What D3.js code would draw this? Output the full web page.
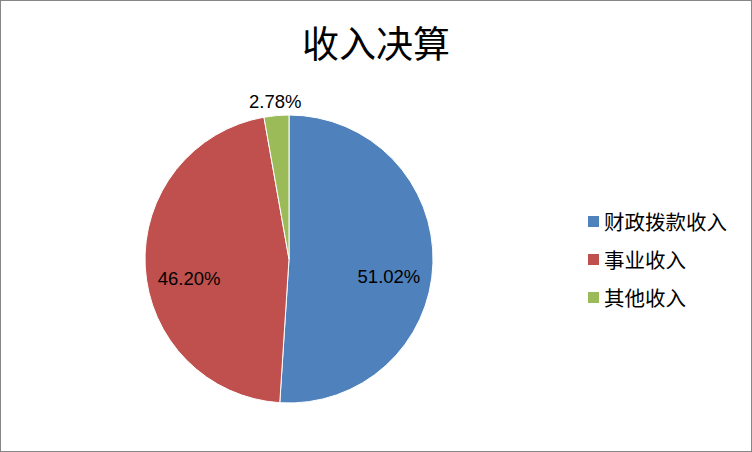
<!DOCTYPE html>
<html>
<head>
<meta charset="utf-8">
<script src="https://cdn.jsdelivr.net/npm/d3@7"></script>
<style>
  body { margin: 0; background: #fff; }
  svg { display: block; }
</style>
</head>
<body>
<div id="chart"></div>
<script>
const categories = ['财政拨款收入', '事业收入', '其他收入']
const shares = [51.02, 46.20, 2.78]
const colors = ['#4F81BD', '#C0504D', '#9BBB59']

const width = 752
const height = 452
const cx = 289
const cy = 259
const radius = 144

const svg = d3.select('#chart')
    .append('svg')
    .attr('width', width)
    .attr('height', height)

// outer frame
svg.append('rect')
    .attr('x', 0.5)
    .attr('y', 0.5)
    .attr('width', width - 1)
    .attr('height', height - 1)
    .attr('fill', '#fff')
    .attr('stroke', '#868686')

svg.append('text')
    .attr('x', 376)
    .attr('y', 42)
    .attr('text-anchor', 'middle')
    .attr('dominant-baseline', 'central')
    .attr('font-family', '"Noto Sans CJK SC", sans-serif')
    .attr('font-size', 37)
    .attr('fill', '#000')
    .text('收入决算')

const pie = d3.pie().sort(null).value(d => d)
const arcs = pie(shares)
const arc = d3.arc().innerRadius(0).outerRadius(radius)
const color = d3.scaleOrdinal().domain(categories).range(colors)

const g = svg.append('g').attr('transform', 'translate(' + cx + ',' + cy + ')')

g.selectAll('.slice')
    .data(arcs)
    .enter()
    .append('path')
    .attr('class', 'slice')
    .attr('d', arc)
    .attr('fill', (d, i) => color(categories[i]))
    .attr('stroke', '#fff')
    .attr('stroke-width', 1)

// small slices get their label outside, others inside (shifted down like Excel best fit)
const innerLabel = d3.arc().innerRadius(100).outerRadius(100)
const outerLabel = d3.arc().innerRadius(158).outerRadius(158)
g.selectAll('.label')
    .data(arcs)
    .enter()
    .append('text')
    .attr('class', 'label')
    .attr('transform', d => {
        const small = d.data < 5
        const c = (small ? outerLabel : innerLabel).centroid(d)
        return 'translate(' + c[0] + ',' + (c[1] + (small ? 0 : 14)) + ')'
    })
    .attr('text-anchor', 'middle')
    .attr('dominant-baseline', 'central')
    .attr('font-family', '"Liberation Sans", Arial, sans-serif')
    .attr('font-size', 18.5)
    .attr('fill', '#000')
    .text(d => d.data.toFixed(2) + '%')

const legend = svg.append('g').attr('transform', 'translate(588, 221)')
const items = legend.selectAll('.item')
    .data(categories)
    .enter()
    .append('g')
    .attr('class', 'item')
    .attr('transform', (d, i) => 'translate(0,' + i * 38 + ')')
items.append('rect')
    .attr('x', 0)
    .attr('y', -5)
    .attr('width', 11)
    .attr('height', 11)
    .attr('fill', d => color(d))
items.append('text')
    .attr('x', 16)
    .attr('y', 0)
    .attr('dominant-baseline', 'central')
    .attr('font-family', '"Noto Sans CJK SC", sans-serif')
    .attr('font-size', 20.5)
    .attr('fill', '#000')
    .text(d => d)
</script>
</body>
</html>
